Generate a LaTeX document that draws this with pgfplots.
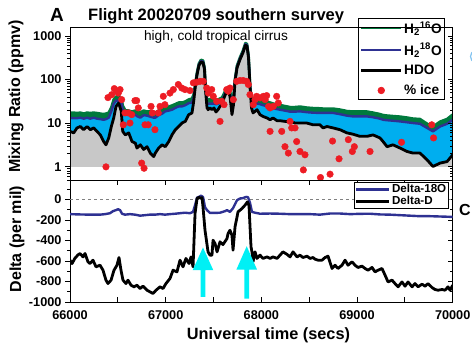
\documentclass[border=0pt]{standalone}
\usepackage{fontspec}
\setmainfont{Liberation Sans}
\usepackage{pgfplots}
\pgfplotsset{compat=1.18}
\usepackage{pgfplotstable}
\definecolor{hgreen}{RGB}{0,122,61}
\definecolor{hblue}{RGB}{46,49,146}
\definecolor{hcyan}{RGB}{0,174,239}
\definecolor{hgray}{RGB}{200,200,200}
\definecolor{hred}{RGB}{237,28,36}
\definecolor{arrowcyan}{RGB}{0,240,245}
\definecolor{lightarc}{RGB}{130,195,240}
\newcommand{\tlf}{\fontsize{12.7}{14}\selectfont\bfseries}

\pgfplotstableread{
t g b k
66000 17.4 13.2 6.5
66039 17.4 13.0 6.0
66073 17.0 13.0 7.8
66108 17.4 13.4 8.4
66143 16.5 12.7 7.1
66178 17.4 13.4 8.4
66212 17.0 12.7 7.1
66248 17.4 13.4 7.8
66282 17.0 12.7 6.5
66317 16.5 12.4 5.4
66352 16.1 12.0 3.8
66376 16.5 12.4 3.2
66405 17.4 13.4 4.6
66432 22.7 18.7 8.4
66457 34.7 28.1 13.2
66481 40.6 32.9 24.3
66509 40.6 32.9 29.1
66536 36.6 29.6 18.7
66551 25.3 20.4 6.5
66578 19.4 15.7 5.4
66614 19.4 15.7 6.0
66648 18.4 14.9 3.8
66683 19.4 15.7 3.5
66700 18.4 14.5 2.7
66735 17.4 13.4 3.2
66770 19.4 15.3 2.5
66805 18.4 14.9 2.9
66839 18.4 14.1 2.07
66875 17.4 13.4 1.72
66892 17.4 13.4 2.07
66927 19.4 15.3 2.7
66962 20.4 16.5 3.2
66996 23.3 18.7 2.9
67032 23.9 19.4 3.8
67066 25.3 20.4 5.4
67101 27.3 22.4 7.1
67136 29.6 24.3 8.4
67171 29.6 24.3 10.1
67205 31.2 25.9 11.0
67241 34.7 28.8 15.7
67275 36.6 29.6 17.2
67293 45.2 38.6 31.7
67312 85.3 80.9 76.8
67328 145 137 130
67348 233 221 210
67369 281 266 253
67390 273 260 246
67406 189 179 170
67416 65.4 62.1 58.9
67432 34.7 28.1 22.7
67443 34.7 28.1 20.4
67463 35.6 28.1 22.4
67484 35.6 28.1 20.4
67505 34.7 28.1 22.4
67526 34.7 27.3 18.1
67547 34.7 28.1 20.4
67568 36.6 29.6 24.3
67589 38.6 31.2 26.6
67610 47.7 42.2 38.0
67631 60.5 55.0 49.5
67652 65.4 59.8 53.8
67672 51.6 45.9 41.3
67693 38.6 31.2 15.7
67709 40.6 32.9 26.6
67725 102 96.4 91.4
67746 207 196 186
67777 320 304 288
67808 457 433 411
67834 683 648 615
67850 648 615 583
67866 351 332 315
67882 71.6 67.9 64.4
67897 36.6 29.6 22.4
67913 34.7 28.1 17.2
67934 34.7 28.1 18.7
67955 34.7 28.1 20.4
67986 33.8 27.3 15.7
68017 32.9 25.9 14.3
68059 31.2 24.6 13.2
68091 29.6 23.1 12.0
68122 28.1 22.1 13.2
68164 26.6 21.0 11.4
68195 25.9 20.4 11.4
68247 24.6 19.4 11.0
68300 23.3 18.4 11.0
68352 23.3 18.4 10.1
68404 23.9 18.7 10.1
68474 22.7 17.9 10.1
68540 22.1 17.4 9.2
68613 21.8 17.2 9.2
68645 21.5 17.2 7.8
68686 21.5 17.2 8.4
68749 21.5 17.2 7.8
68822 20.4 16.1 7.1
68895 18.9 14.9 6.0
68958 18.4 14.3 5.6
69031 18.4 14.3 5.0
69105 18.4 14.3 5.0
69167 17.4 13.7 5.4
69240 16.1 12.7 4.6
69272 15.3 12.0 3.8
69314 14.9 11.7 2.9
69376 14.5 11.4 3.2
69449 14.1 11.0 2.7
69523 13.4 10.5 2.25
69585 12.7 10.1 2.07
69658 12.4 9.7 2.07
69732 9.7 7.8 1.45
69794 8.3 6.5 1.02
69868 10.8 8.4 1.22
69941 12.4 9.7 1.32
70000 15.7 12.0 1.89
}\toptab

\pgfplotstableread{
t v
66376 1.0
66397 38.6
66436 45
66463 62
66488 54
66505 49
66523 59
66540 34.7
66557 9.2
66575 17.2
66609 17.2
66627 10.1
66645 15.7
66679 32.9
66697 32.9
66714 22.4
66749 1.22
66774 0.93
66784 9.2
66818 9.2
66847 24.3
66860 17.2
66888 7.1
66923 17.2
66941 24.3
66975 41.3
66992 26.6
67045 49
67080 59
67132 77
67168 64
67202 59
67254 55.9
67289 84
67324 87
67359 91
67393 91
67429 64
67446 49
67481 59
67498 41.3
67533 31.7
67568 11
67586 31.7
67610 26.6
67638 59
67654 54
67672 64
67707 34.7
67742 91
67777 95
67811 95
67847 91
67864 77
67881 45
67916 26.6
67934 34.7
67951 41.3
67986 38
68021 41.3
68040 34.7
68056 42.9
68075 24.3
68091 22.4
68125 24.3
68160 41.3
68177 29.1
68091 6.5
68213 6.5
68247 2.9
68282 2.07
68300 11
68317 7.8
68352 7.8
68369 3.8
68404 2.25
68456 1.89
68439 0.85
68618 0.57
68718 0.68
68812 1.53
68744 3.9
68909 4.2
68972 2.9
68951 2.25
69136 2.25
69465 3.66
69781 9.2
69800 4.6
}\icetab

\pgfplotstableread{
t v
66000 -143
66105 -146
66209 -148
66314 -148
66366 -143
66418 -134
66449 -114
66481 -104
66502 -95
66523 -104
66544 -139
66575 -148
66627 -143
66679 -148
66732 -158
66784 -153
66836 -148
66889 -148
66941 -143
66993 -148
67045 -143
67098 -139
67150 -134
67202 -129
67254 -134
67286 -121
67307 -56
67328 18
67348 25
67369 37
67390 25
67411 -75
67432 -104
67463 -131
67516 -131
67568 -129
67620 -114
67641 -104
67672 -121
67704 -85
67725 -46
67746 -7
67777 10
67808 13
67840 25
67861 22
67882 -36
67902 -121
67934 -129
67986 -139
68091 -137
68195 -139
68300 -143
68404 -143
68509 -143
68613 -148
68718 -137
68822 -137
68927 -143
69031 -140
69136 -139
69240 -146
69345 -148
69449 -153
69554 -158
69658 -163
69763 -163
69868 -166
70000 -170
}\doxtab

\pgfplotstableread{
t v
66000 -592
66021 -625
66052 -573
66084 -540
66105 -527
66136 -560
66157 -527
66188 -608
66209 -625
66240 -592
66272 -657
66314 -641
66345 -690
66376 -787
66397 -820
66429 -787
66460 -690
66491 -641
66512 -566
66533 -690
66554 -787
66585 -820
66606 -787
66638 -836
66669 -852
66700 -836
66732 -869
66763 -845
66805 -885
66836 -901
66868 -917
66899 -885
66941 -852
66972 -869
67003 -820
67045 -771
67077 -690
67118 -706
67150 -592
67181 -657
67212 -575
67244 -625
67265 -560
67286 -657
67307 -137
67328 10
67348 20
67369 12
67380 18
67390 -72
67411 -300
67443 -511
67463 -543
67484 -543
67495 -397
67516 -430
67537 -511
67568 -413
67599 -440
67641 -381
67652 -332
67672 -300
67693 -350
67704 -495
67725 -267
67746 -170
67756 -121
67798 -88
67829 -56
67855 -23
67871 -60
67892 -462
67902 -511
67913 -608
67934 -511
67955 -575
67986 -543
68017 -575
68059 -560
68091 -575
68122 -560
68164 -575
68195 -543
68226 -511
68268 -535
68300 -560
68331 -511
68373 -560
68404 -543
68435 -566
68477 -553
68509 -575
68540 -566
68561 -582
68592 -592
68634 -592
68666 -566
68697 -553
68739 -673
68770 -641
68801 -673
68843 -641
68875 -592
68906 -641
68948 -608
68979 -641
69010 -663
69052 -650
69084 -673
69115 -690
69157 -663
69188 -706
69220 -690
69261 -673
69293 -738
69324 -804
69366 -787
69397 -820
69429 -852
69470 -804
69502 -846
69533 -804
69575 -852
69606 -820
69638 -852
69680 -826
69711 -846
69742 -820
69784 -859
69815 -878
69847 -885
69889 -878
69920 -885
69951 -852
69972 -885
70000 -836
}\ddtab

\begin{document}
\begin{tikzpicture}
\path[use as bounding box] (0pt,0pt) rectangle (472pt,-343pt);

% ---------- top panel ----------
\begin{axis}[
  at={(70pt,-180pt)}, anchor=south west, scale only axis,
  width=382.7pt, height=153pt,
  xmin=66000, xmax=70000, ymode=log, ymin=0.5, ymax=1600,
  xtick=\empty,
  ytick={1,10,100,1000}, yticklabels={1,10,100,1000},
  minor ytick={0.5,0.6,0.7,0.8,0.9,2,3,4,5,6,7,8,9,20,30,40,50,60,70,80,90,200,300,400,500,600,700,800,900},
  ytick pos=left, tick align=outside,
  major tick length=5pt, minor tick length=3pt,
  yticklabel style={font=\tlf},
  axis line style={line width=0.8pt}, tick style={line width=0.8pt, black},
  axis on top,
  legend style={at={(0.7526,1.0588)}, anchor=north west,
    font=\fontsize{13.7}{15}\selectfont\bfseries, draw=black, line width=0.7pt,
    inner sep=1.5pt, row sep=5.5pt, nodes={inner sep=1.5pt}},
  legend cell align=left,
  legend image code/.code={\draw[mark repeat=2,mark phase=2,#1] plot coordinates {(0pt,0pt) (20pt,0pt) (40pt,0pt)};},
]
\addplot[fill=hgreen, draw=none, forget plot] table[x=t,y=g]{\toptab} \closedcycle;
\addplot[fill=hcyan, draw=none, forget plot] table[x=t,y=b]{\toptab} \closedcycle;
\addplot[fill=hgray, draw=none, forget plot] table[x=t,y=k]{\toptab} \closedcycle;
\addplot[hgreen, line width=2.8pt, line join=round] table[x=t,y=g]{\toptab};
\addlegendentry{H\textsubscript{2}\textsuperscript{16}O}
\addplot[hblue, line width=2.4pt, line join=round] table[x=t,y=b]{\toptab};
\addlegendentry{H\textsubscript{2}\textsuperscript{18}O}
\addplot[black, line width=2.8pt, line join=round] table[x=t,y=k]{\toptab};
\addlegendentry{HDO}
\addplot[only marks, mark=*, mark size=3.3pt, color=hred, mark options={draw=hred, fill=hred}] table[x=t,y=v]{\icetab};
\addlegendentry{\% ice}
\end{axis}
\begin{axis}[
  at={(70pt,-180pt)}, anchor=south west, scale only axis,
  width=382.7pt, height=153pt,
  xmin=66000, xmax=70000, ymode=log, ymin=0.5, ymax=1600,
  xtick=\empty,
  ytick={1,10,100,1000}, yticklabels={},
  minor ytick={0.5,0.6,0.7,0.8,0.9,2,3,4,5,6,7,8,9,20,30,40,50,60,70,80,90,200,300,400,500,600,700,800,900},
  ytick pos=right, tick align=inside,
  major tick length=5pt, minor tick length=3pt,
  axis line style={line width=0.8pt}, tick style={line width=0.8pt, black},
]
\end{axis}

% ---------- bottom panel ----------
\begin{axis}[
  at={(70pt,-302pt)}, anchor=south west, scale only axis,
  width=382.7pt, height=122pt,
  xmin=66000, xmax=70000, ymin=-1000, ymax=190,
  scaled x ticks=false,
  xtick={66000,66500,...,70000},
  xticklabels={66000,,67000,,68000,,69000,,70000},
  xtick pos=both, xticklabel pos=lower,
  ytick={-1000,-800,-600,-400,-200,0}, yticklabels={},
  minor ytick={-900,-700,-500,-300,-100,100},
  ytick pos=right, tick align=inside,
  major tick length=5pt, minor tick length=3pt,
  xticklabel style={font=\tlf, yshift=-5pt},
  axis line style={line width=0.8pt}, tick style={line width=0.8pt, black},
]
\end{axis}
\begin{axis}[
  at={(70pt,-302pt)}, anchor=south west, scale only axis,
  width=382.7pt, height=122pt,
  xmin=66000, xmax=70000, ymin=-1000, ymax=190,
  xtick=\empty,
  ytick={-1000,-800,-600,-400,-200,0}, yticklabels={-1000,-800,-600,-400,-200,0},
  minor ytick={-900,-700,-500,-300,-100,100},
  ytick pos=left, tick align=outside,
  major tick length=5pt, minor tick length=3pt,
  yticklabel style={font=\tlf},
  axis line style={line width=0.8pt}, tick style={line width=0.8pt, black},
  legend style={at={(0.742,0.9836)}, anchor=north west,
    font=\fontsize{11.6}{12}\selectfont\bfseries, draw=black, line width=0.7pt,
    inner sep=0.5pt, row sep=-1pt, nodes={inner sep=1.5pt}},
  legend cell align=left,
  legend image code/.code={\draw[#1] (0pt,0pt) -- (33pt,0pt);},
]
\addplot[gray, dashed, line width=0.8pt, forget plot] coordinates {(66000,0) (70000,0)};
\addplot[hblue, line width=2.4pt, line join=round] table[x=t,y=v]{\doxtab};
\addlegendentry{Delta-18O}
\addplot[black, line width=2.8pt, line join=round] table[x=t,y=v]{\ddtab};
\addlegendentry{Delta-D}
\fill[arrowcyan] (axis cs:67365,-950) -- (axis cs:67365,-690) -- (axis cs:67282,-690) -- (axis cs:67390,-468) -- (axis cs:67498,-690) -- (axis cs:67415,-690) -- (axis cs:67415,-950) -- cycle;
\fill[arrowcyan] (axis cs:67822,-966) -- (axis cs:67822,-684) -- (axis cs:67739,-684) -- (axis cs:67847,-456) -- (axis cs:67955,-684) -- (axis cs:67872,-684) -- (axis cs:67872,-966) -- cycle;
\end{axis}

% ---------- text ----------
\node[anchor=base west, inner sep=0pt, font=\fontsize{19}{20}\selectfont\bfseries] at (50pt,-21pt) {A};
\node[anchor=base west, inner sep=0pt, font=\fontsize{16.5}{18}\selectfont\bfseries] at (88pt,-20.7pt) {Flight 20020709 southern survey};
\node[anchor=base, inner sep=0pt, font=\fontsize{13.7}{15}\selectfont] at (216pt,-40.7pt) {high, cold tropical cirrus};
\node[rotate=90, inner sep=0pt, font=\fontsize{16}{18}\selectfont\bfseries] at (16pt,-96.5pt) {Mixing Ratio (ppmv)};
\node[rotate=90, inner sep=0pt, font=\fontsize{16}{18}\selectfont\bfseries] at (17pt,-239pt) {Delta (per mil)};
\node[anchor=base, inner sep=0pt, font=\fontsize{16.3}{18}\selectfont\bfseries] at (268.5pt,-339.5pt) {Universal time (secs)};
\node[anchor=base west, inner sep=0pt, font=\fontsize{16}{18}\selectfont\bfseries] at (459pt,-215pt) {C};
\draw[lightarc, line width=1.2pt] (475pt,-50pt) .. controls (469pt,-53pt) and (469pt,-60pt) .. (475pt,-63pt);
\end{tikzpicture}
\end{document}
